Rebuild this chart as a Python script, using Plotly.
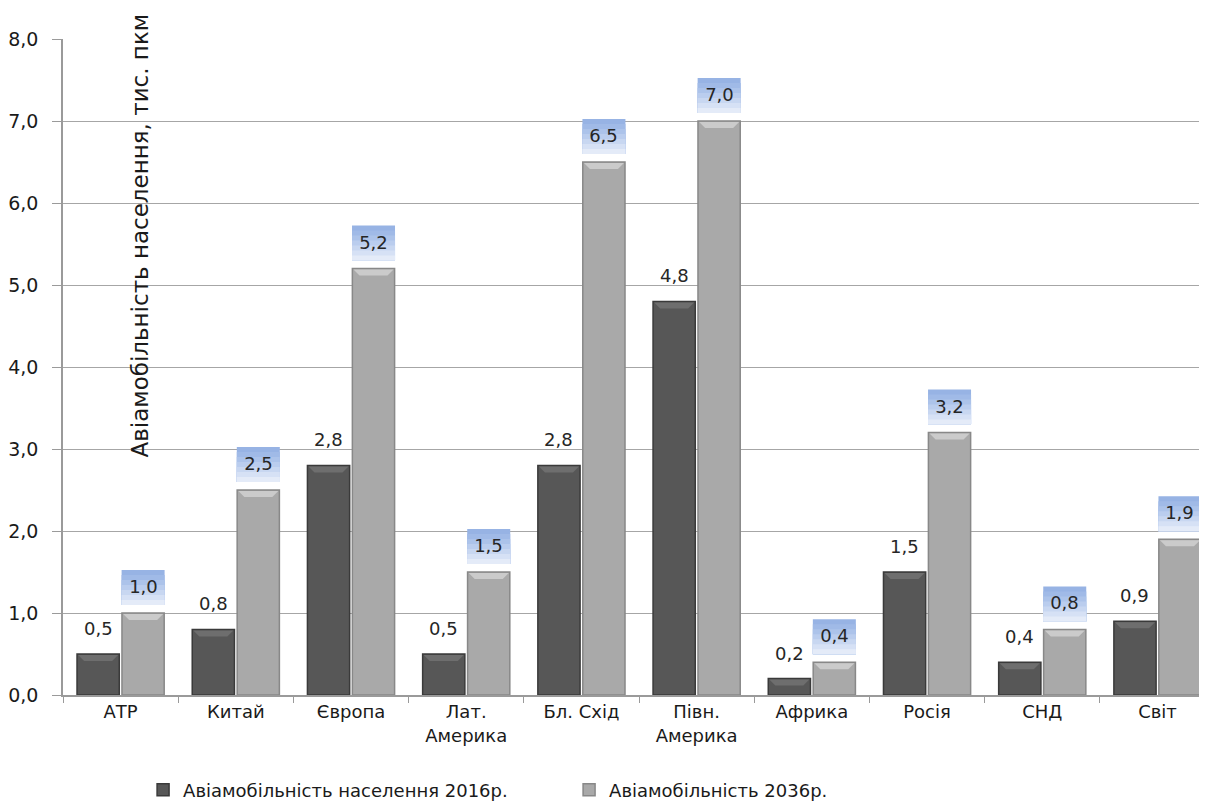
import plotly.graph_objects as go

categories = ["АТР", "Китай", "Європа", "Лат.<br>Америка", "Бл. Схід",
              "Півн.<br>Америка", "Африка", "Росія", "СНД", "Світ"]
values_2016 = [0.5, 0.8, 2.8, 0.5, 2.8, 4.8, 0.2, 1.5, 0.4, 0.9]
values_2036 = [1.0, 2.5, 5.2, 1.5, 6.5, 7.0, 0.4, 3.2, 0.8, 1.9]
series_names = ["Авіамобільність населення 2016р.", "Авіамобільність 2036р."]
y_title = "Авіамобільність населення, тис. пкм"

FONT = "DejaVu Sans"
fmt = lambda v: f"{v:.1f}".replace(".", ",")
OFF = 22.5   # pixel offset of each bar centre from the category centre
HALF = 21    # half bar width in px

fig = go.Figure()
fig.add_trace(go.Bar(
    x=categories, y=values_2016, name=series_names[0],
    marker=dict(color="#575757", line=dict(color="#3a3a3a", width=1.5)),
))
fig.add_trace(go.Bar(
    x=categories, y=values_2036, name=series_names[1],
    marker=dict(color="#a9a9a9", line=dict(color="#888888", width=1.5)),
))

# bevel highlight on bar tops
def bevel(i, v, dx, color):
    fig.add_shape(
        type="path", xref="x", yref="y", xsizemode="pixel", ysizemode="pixel",
        xanchor=i, yanchor=v,
        path=f"M {dx-HALF+1},-1 L {dx+HALF-1},-1 L {dx+HALF-7},-7 L {dx-HALF+7},-7 Z",
        fillcolor=color, line=dict(width=0), layer="above",
    )

for i, v in enumerate(values_2016):
    bevel(i, v, -OFF, "#6e6e6e")
for i, v in enumerate(values_2036):
    bevel(i, v, OFF, "#cbcbcb")

# white band behind the axis title (interrupts the gridlines)
fig.add_shape(type="rect", xref="paper", yref="paper",
              x0=0.0516, x1=0.1075, y0=0.35, y1=1.0,
              fillcolor="white", line=dict(width=0), layer="between")

fig.add_annotation(
    x=0.067, y=0.70, xref="paper", yref="paper", text=y_title,
    xanchor="center", yanchor="middle",
    textangle=-90, showarrow=False,
    font=dict(family=FONT, size=23, color="#1a1a1a"),
)

# plain labels for 2016 series
for i, v in enumerate(values_2016):
    fig.add_annotation(
        x=i, y=v, xref="x", yref="y", xshift=-OFF, yshift=13,
        text=fmt(v), showarrow=False, yanchor="bottom", xanchor="center",
        font=dict(family=FONT, size=18, color="#262626"),
    )

# highlighted labels for 2036 series (vertical blue gradient box, nested rects)
grad = ["#97b3e4", "#a0bae7", "#acc3ea", "#bacdee", "#c8d7f1", "#d6e1f5", "#e4ebf8"]
for i, v in enumerate(values_2036):
    for k, c in enumerate(grad):
        fig.add_shape(
            type="rect", xref="x", yref="y", xsizemode="pixel", ysizemode="pixel",
            xanchor=i, yanchor=v, x0=OFF - 21.5, x1=OFF + 21.5,
            y0=8, y1=43 - 5 * k,
            fillcolor=c, line=dict(width=0), layer="above",
        )
    fig.add_annotation(
        x=i, y=v, xref="x", yref="y", xshift=OFF, yshift=8,
        text=fmt(v), showarrow=False, yanchor="bottom", xanchor="center",
        width=43, height=33,
        font=dict(family=FONT, size=18, color="#262626"),
    )

fig.update_layout(
    width=1199, height=802,
    margin=dict(l=55, r=0, t=31, b=115, autoexpand=False),
    plot_bgcolor="white", paper_bgcolor="white",
    separators=", ",
    barmode="group", bargap=0.22, bargroupgap=0.06,
    showlegend=True,
    legend=dict(orientation="h", x=0.07, xanchor="left", y=-0.145, yanchor="middle",
                font=dict(family=FONT, size=18, color="#1a1a1a"),
                entrywidth=381, entrywidthmode="pixels", itemwidth=30),
)
fig.update_xaxes(
    type="category", range=[-0.5, 9.43], automargin=False,
    tickson="boundaries", ticks="outside", ticklen=6, tickcolor="#9a9a9a",
    showline=True, linecolor="#9a9a9a", linewidth=1.5,
    tickfont=dict(family=FONT, size=18, color="#1a1a1a"),
    showgrid=False,
)
fig.update_yaxes(
    range=[0, 8], dtick=1, tickformat=".1f", automargin=False,
    ticks="outside", ticklen=9, tickcolor="#9a9a9a", ticklabelstandoff=10,
    showline=True, linecolor="#9a9a9a", linewidth=1.5,
    showgrid=True, gridcolor="#a6a6a6", gridwidth=1.2,
    zeroline=False,
    tickfont=dict(family=FONT, size=19, color="#1a1a1a"),
)

fig.write_html("out.html")
